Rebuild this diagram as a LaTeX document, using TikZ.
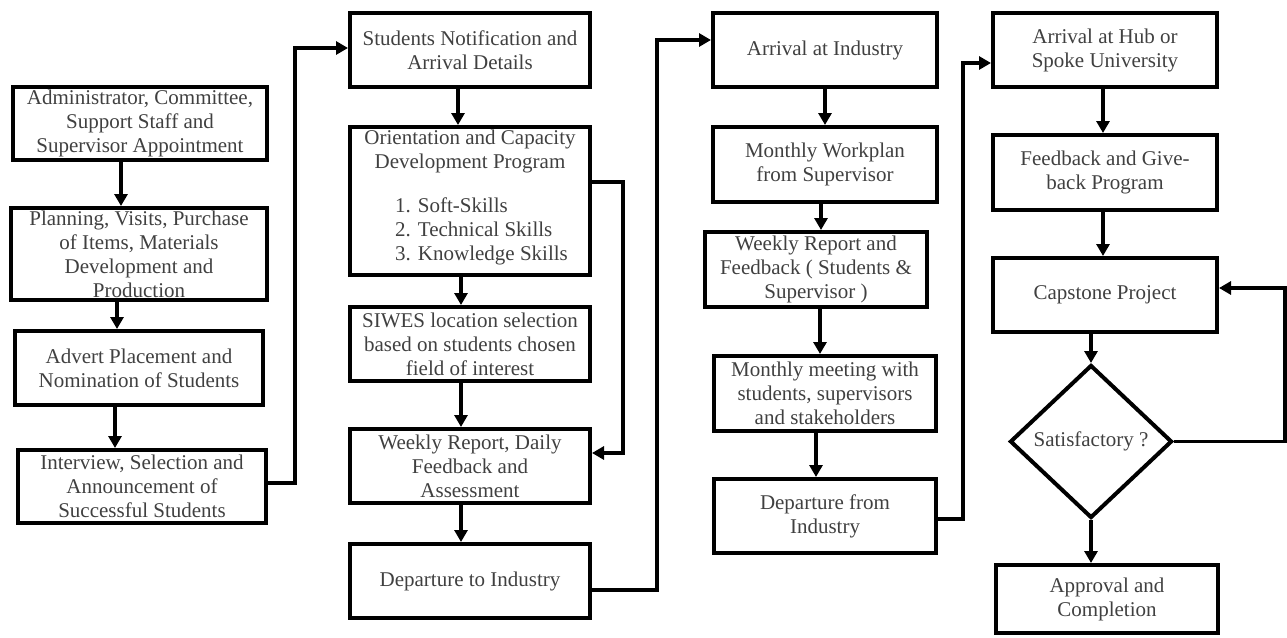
\documentclass[tikz,border=0pt]{standalone}
\usepackage{fontspec}
\setmainfont{Liberation Serif}
\usetikzlibrary{arrows.meta,shapes.geometric}
\newcommand\myfs{\fontsize{21}{24}\selectfont}
\tikzset{
  box/.style={draw=black, line width=4pt, inner sep=0pt, align=center, text=black!75, font=\myfs},
  txt/.style={inner sep=0pt, text=black!75, font=\myfs},
  arr/.style={line width=3.5pt, -{Triangle[length=12pt,width=13pt]}},
  ln/.style={line width=3.5pt}
}
\begin{document}
\begin{tikzpicture}[x=1pt,y=-1pt]
\useasboundingbox (0,0) rectangle (1287,637);
% column 1
\node[box, minimum width=254pt, minimum height=73pt] (a1) at (140,123.5) {Administrator, Committee,\\Support Staff and\\Supervisor Appointment};
\node[box, minimum width=256pt, minimum height=92pt] (a2) at (139,254) {Planning, Visits, Purchase\\of Items, Materials\\Development and\\Production};
\node[box, minimum width=248pt, minimum height=74pt] (a3) at (139,368) {Advert Placement and\\Nomination of Students};
\node[box, minimum width=248pt, minimum height=73pt] (a4) at (142,486.5) {Interview, Selection and\\Announcement of\\Successful Students};
% column 2
\node[box, minimum width=240pt, minimum height=74pt] (b1) at (470,50) {Students Notification and\\Arrival Details};
\node[box, minimum width=240pt, minimum height=148pt] (b2) at (470,201) {};
\node[txt, align=center] (b2h) at (470,151.5) {Orientation and Capacity\\Development Program};
\node[txt, align=left, anchor=west] (b2l) at (395,231) {1. Soft-Skills\\2. Technical Skills\\3. Knowledge Skills};
\node[box, minimum width=240pt, minimum height=74pt] (b3) at (470,344) {SIWES location selection\\based on students chosen\\field of interest};
\node[box, minimum width=240pt, minimum height=74pt] (b4) at (470,466) {Weekly Report, Daily\\Feedback and\\Assessment};
\node[box, minimum width=240pt, minimum height=74pt] (b5) at (470,581) {Departure to Industry};
% column 3
\node[box, minimum width=224pt, minimum height=74pt] (c1) at (825,50) {Arrival at Industry};
\node[box, minimum width=224pt, minimum height=75pt] (c2) at (825,164.5) {Monthly Workplan\\from Supervisor};
\node[box, minimum width=222pt, minimum height=75pt] (c3) at (816,269.5) {Weekly Report and\\Feedback ( Students \&\\Supervisor )};
\node[box, minimum width=222pt, minimum height=75pt] (c4) at (825,393.5) {Monthly meeting with\\students, supervisors\\and stakeholders};
\node[box, minimum width=222pt, minimum height=74pt] (c5) at (825,516) {Departure from\\Industry};
% column 4
\node[box, minimum width=224pt, minimum height=74pt] (d1) at (1105,50) {Arrival at Hub or\\Spoke University};
\node[box, minimum width=224pt, minimum height=75pt] (d2) at (1105,172.5) {Feedback and Give-\\back Program};
\node[box, minimum width=224pt, minimum height=74pt] (d3) at (1105,295) {Capstone Project};
\node[box, shape=diamond, aspect=1.06, minimum width=162pt, minimum height=153pt] (dm) at (1091,441.5) {Satisfactory ?};
\node[box, minimum width=222pt, minimum height=68pt] (d4) at (1107,599) {Approval and\\Completion};
% vertical arrows
\draw[arr] (a1.south -| 121,0) -- (a2.north -| 121,0);
\draw[arr] (a2.south -| 117,0) -- (a3.north -| 117,0);
\draw[arr] (a3.south -| 115,0) -- (a4.north -| 115,0);
\draw[arr] (b1.south -| 458,0) -- (b2.north -| 458,0);
\draw[arr] (b2.south -| 461,0) -- (b3.north -| 461,0);
\draw[arr] (b3.south -| 461,0) -- (b4.north -| 461,0);
\draw[arr] (b4.south -| 461,0) -- (b5.north -| 461,0);
\draw[arr] (c1.south -| 825,0) -- (c2.north -| 825,0);
\draw[arr] (c2.south -| 821,0) -- (c3.north -| 821,0);
\draw[arr] (c3.south -| 820,0) -- (c4.north -| 820,0);
\draw[arr] (c4.south -| 816,0) -- (c5.north -| 816,0);
\draw[arr] (d1.south -| 1103,0) -- (d2.north -| 1103,0);
\draw[arr] (d2.south -| 1103,0) -- (d3.north -| 1103,0);
\draw[arr] (d3.south -| dm.north) -- (dm.north);
\draw[arr] (dm.south) -- (d4.north -| dm.south);
% routed connectors
\draw[arr] (a4.east |- 0,483) -- ++(27,0) |- (b1.west |- 0,48);
\draw[arr] (b2.east |- 0,182) -- ++(31,0) |- (b4.east |- 0,453);
\draw[arr] (b5.east |- 0,590) -- ++(65,0) |- (c1.west |- 0,40);
\draw[arr] (c5.east |- 0,519) -- ++(25,0) |- (d1.west |- 0,63);
\draw[arr] (dm.east) -- ++(111,0) |- (d3.east |- 0,288);
\end{tikzpicture}
\end{document}
